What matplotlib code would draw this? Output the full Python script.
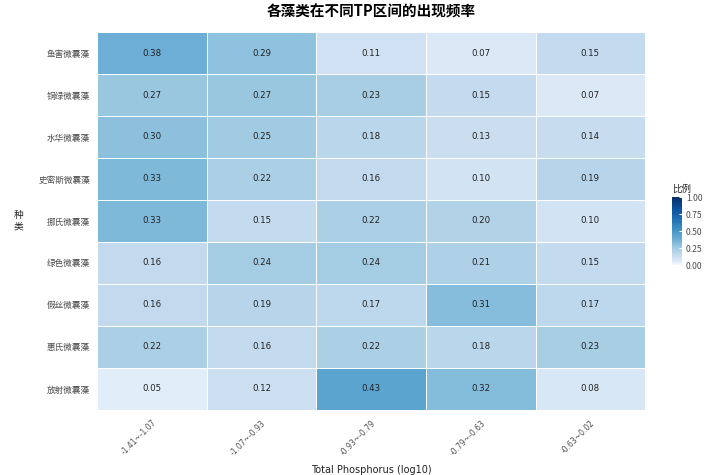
import numpy as np
import matplotlib
matplotlib.use("Agg")
import matplotlib.pyplot as plt
from matplotlib.colors import ListedColormap

plt.rcParams['font.family'] = ['Noto Sans CJK SC', 'DejaVu Sans']

species = ["鱼害微囊藻", "铜绿微囊藻", "水华微囊藻", "史密斯微囊藻", "挪氏微囊藻",
           "绿色微囊藻", "假丝微囊藻", "惠氏微囊藻", "放射微囊藻"]
tp_bins = ["-1.41~-1.07", "-1.07~-0.93", "-0.93~-0.79", "-0.79~-0.63", "-0.63~0.02"]

freq = np.array([
    [0.38, 0.29, 0.11, 0.07, 0.15],
    [0.27, 0.27, 0.23, 0.15, 0.07],
    [0.30, 0.25, 0.18, 0.13, 0.14],
    [0.33, 0.22, 0.16, 0.10, 0.19],
    [0.33, 0.15, 0.22, 0.20, 0.10],
    [0.16, 0.24, 0.24, 0.21, 0.15],
    [0.16, 0.19, 0.17, 0.31, 0.17],
    [0.22, 0.16, 0.22, 0.18, 0.23],
    [0.05, 0.12, 0.43, 0.32, 0.08],
])

# Blues palette, stretched so low values get more colour
cmap = ListedColormap(plt.get_cmap("Blues")(np.linspace(0, 1, 256) ** 0.72))

fig = plt.figure(figsize=(7.05, 4.75), dpi=100)
ax = fig.add_axes([0.1376, 0.137, 0.7775, 0.7956])

nrow, ncol = freq.shape
mesh = ax.pcolormesh(np.arange(ncol + 1), np.arange(nrow + 1), freq[::-1],
                     cmap=cmap, vmin=0, vmax=1, edgecolors="white", linewidth=0.6)

for i in range(nrow):
    for j in range(ncol):
        ax.text(j + 0.5, nrow - i - 0.5, f"{freq[i, j]:.2f}", ha="center", va="center",
                fontsize=6.2, color="#222222", family="DejaVu Sans")

ax.set_xlim(0, ncol)
ax.set_ylim(0, nrow)
ax.set_xticks(np.arange(ncol) + 0.5)
ax.set_xticklabels(tp_bins, rotation=45, ha="right", rotation_mode="anchor",
                   fontsize=5.5, color="#4d4d4d", family="DejaVu Sans")
ax.set_yticks(np.arange(nrow) + 0.5)
ax.set_yticklabels(species[::-1], fontsize=6.2, color="#4d4d4d")
ax.tick_params(axis="x", length=0, pad=6)
ax.tick_params(axis="y", length=0, pad=5)
for s in ax.spines.values():
    s.set_visible(False)

ax.set_xlabel("Total Phosphorus (log10)", fontsize=7, color="#222222",
              family="DejaVu Sans", labelpad=6)
ax.set_ylabel("种\n类", fontsize=7, color="#222222", rotation=0,
              va="center", labelpad=14)
ax.set_title("各藻类在不同TP区间的出现频率", fontsize=10.5, fontweight="bold", pad=11)

cax = fig.add_axes([0.953, 0.442, 0.0142, 0.143])
cb = fig.colorbar(mesh, cax=cax, ticks=[0, 0.25, 0.5, 0.75, 1.0])
cb.ax.set_yticklabels(["0.00", "0.25", "0.50", "0.75", "1.00"])
cb.ax.tick_params(labelsize=6.2, labelcolor="#4d4d4d", length=2.5, color="white",
                  direction="in", pad=3)
cb.outline.set_visible(False)
cb.ax.set_title("比例", fontsize=6.8, color="#222222", pad=4, loc="left")

fig.savefig("out.png", dpi=100, facecolor="white")
